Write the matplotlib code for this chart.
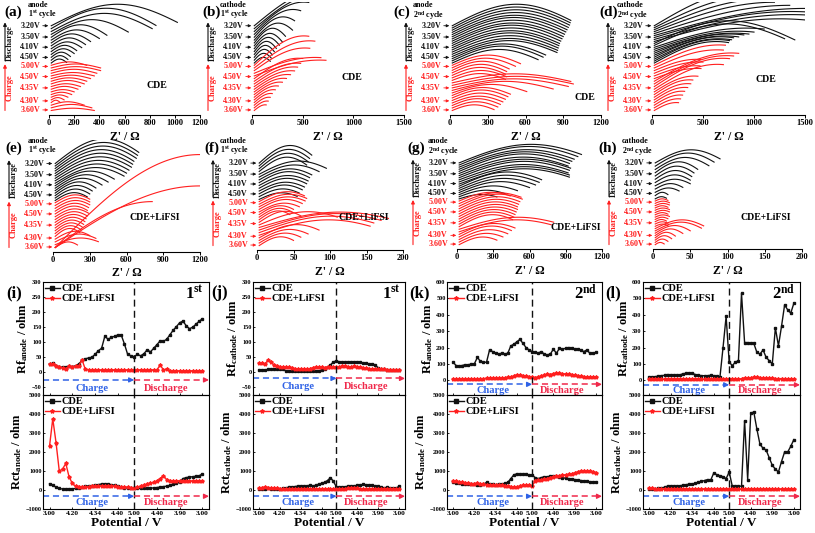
import numpy as np
import matplotlib
matplotlib.use('Agg')
from matplotlib import pyplot as plt
from matplotlib.lines import Line2D
from matplotlib.transforms import ScaledTranslation

plt.rcParams['font.family'] = 'Liberation Serif'
plt.rcParams['font.weight'] = 'bold'
plt.rcParams['axes.labelweight'] = 'bold'
plt.rcParams['mathtext.fontset'] = 'custom'
plt.rcParams['mathtext.bf'] = 'Liberation Serif:bold'
plt.rcParams['mathtext.rm'] = 'Liberation Serif:bold'
plt.rcParams['mathtext.default'] = 'bf'
plt.rcParams['axes.linewidth'] = 0.8

W, H = 815, 533
BLK = '#111111'
RED = '#ff1f1f'
BLUE = '#2f62e6'
PINK = '#f0284a'

# ---------------- Nyquist panels (a)-(h) ----------------
# each curve: end Z' (ohm) and arc height (fraction of panel height), top curve first
VOLT_LABELS = ['3.20V', '3.50V', '4.10V', '4.50V', '5.00V', '4.50V', '4.35V', '4.30V', '3.60V']
VOLT_POS = [0.79, 0.69, 0.60, 0.51, 0.43, 0.34, 0.24, 0.125, 0.045]

A_BLACK_END = [1020, 850, 820, 630, 460, 400, 330, 290, 260, 220, 200, 170, 150, 140]
A_BLACK_H = [0.19, 0.18, 0.16, 0.13, 0.11, 0.09, 0.08, 0.07, 0.06, 0.055, 0.05, 0.045, 0.04, 0.035]
A_RED_END = [300, 410, 410, 380, 360, 330, 300, 280, 250, 230, 200, 180, 150, 120, 90, 280, 340, 360]
A_RED_H = [0.03, 0.035, 0.035, 0.035, 0.03, 0.03, 0.03, 0.03, 0.025, 0.025, 0.02, 0.02, 0.02, 0.02, 0.02, 0.03, 0.03, 0.02]

B_BLACK_END = [700, 650, 560, 480, 420, 400, 330, 300, 270, 240, 220, 200, 190, 180]
B_BLACK_H = [0.32, 0.30, 0.26, 0.22, 0.18, 0.15, 0.13, 0.11, 0.10, 0.09, 0.08, 0.07, 0.06, 0.05]
B_BLACK_S = [0.5, 0.5, 0.55, 0.6, 0.7, 0.8, 0.85, 0.9, 0.9, 0.9, 0.9, 0.9, 0.9, 0.9]
B_RED_END = [560, 620, 570, 680, 730, 500, 480, 450, 420, 380, 340, 300, 260, 230, 200, 180, 160, 140]
B_RED_H = [0.26, 0.24, 0.20, 0.14, 0.14, 0.18, 0.16, 0.15, 0.14, 0.13, 0.12, 0.11, 0.10, 0.09, 0.08, 0.07, 0.06, 0.05]

C_BLACK_END = [960, 955, 950, 940, 930, 920, 910, 900, 890, 880, 870, 865, 860, 855, 850, 760, 740, 700]
C_BLACK_H = [0.19, 0.185, 0.18, 0.175, 0.17, 0.17, 0.165, 0.16, 0.16, 0.155, 0.15, 0.15, 0.145, 0.14, 0.14, 0.13, 0.13, 0.12]
C_RED_END = [560, 520, 470, 450, 440, 450, 440, 960, 980, 940, 820, 610, 480, 460, 440, 420, 400, 380, 350]
C_RED_H = [0.09, 0.085, 0.08, 0.075, 0.07, 0.065, 0.06, 0.08, 0.08, 0.08, 0.08, 0.075, 0.07, 0.07, 0.065, 0.06, 0.06, 0.055, 0.05]

D_BLACK_END = [900, 1000, 1100, 1200, 1350, 1500, 1500, 1500, 1500, 1400, 1300, 1100, 1000, 950, 900, 850, 800, 780, 760, 750]
D_BLACK_H = [0.3, 0.28, 0.27, 0.26, 0.25, 0.24, 0.23, 0.22, 0.2, 0.2, 0.19, 0.17, 0.16, 0.16, 0.17, 0.17, 0.18, 0.18, 0.19, 0.19]
D_BLACK_S = [0.5, 0.5, 0.5, 0.5, 0.5, 0.5, 0.55, 0.55, 0.6, 0.95, 0.9, 0.6, 0.6, 0.6, 0.6, 0.6, 0.6, 0.6, 0.6, 0.6]
D_RED_END = [720, 700, 480, 500, 470, 480, 850, 800, 760, 700, 450, 400, 380, 350, 320, 300, 280, 260]
D_RED_H = [0.18, 0.16, 0.1, 0.1, 0.09, 0.09, 0.25, 0.25, 0.25, 0.22, 0.14, 0.13, 0.12, 0.11, 0.1, 0.09, 0.08, 0.07]

E_BLACK_END = [700, 690, 680, 660, 650, 640, 620, 600, 580, 500, 450, 400, 350, 320, 300, 280]
E_BLACK_H = [0.22, 0.21, 0.2, 0.19, 0.18, 0.17, 0.16, 0.15, 0.14, 0.13, 0.12, 0.11, 0.1, 0.09, 0.08, 0.07]
E_RED_END = [300, 300, 300, 290, 280, 290, 280, 270, 260, 250, 240, 230, 220, 300, 350, 370, 200]
E_RED_H = [0.07, 0.07, 0.07, 0.07, 0.07, 0.07, 0.07, 0.07, 0.07, 0.07, 0.07, 0.07, 0.07, 0.07, 0.07, 0.06, 0.05]
E_LONG_END = [1200, 1200, 810]
E_LONG_H = [0.83, 0.55, 0.41]

F_BLACK_END = [75, 72, 70, 68, 95, 85, 75, 72, 70, 68, 65, 62, 58, 55]
F_BLACK_H = [0.16, 0.15, 0.14, 0.13, 0.12, 0.11, 0.1, 0.1, 0.09, 0.09, 0.08, 0.08, 0.07, 0.06]
F_RED_END = [65, 68, 66, 62, 58, 50, 48, 45, 60, 110, 180, 170, 160, 155, 85, 70, 60, 50]
F_RED_H = [0.09, 0.09, 0.09, 0.09, 0.08, 0.08, 0.08, 0.08, 0.1, 0.12, 0.14, 0.15, 0.15, 0.14, 0.12, 0.1, 0.09, 0.08]

G_BLACK_END = [1030, 1000, 970, 950, 930, 920, 940, 930, 920, 930, 930, 700, 680, 650, 600, 500, 400, 330]
G_BLACK_H = [0.17, 0.17, 0.16, 0.16, 0.16, 0.15, 0.15, 0.15, 0.14, 0.14, 0.14, 0.13, 0.12, 0.11, 0.1, 0.08, 0.06, 0.04]
G_RED_END = [440, 530, 540, 520, 510, 500, 500, 490, 480, 470, 460, 800, 780, 480, 450, 420, 380, 330]
G_RED_H = [0.08, 0.1, 0.11, 0.11, 0.11, 0.11, 0.11, 0.11, 0.11, 0.11, 0.11, 0.11, 0.11, 0.1, 0.1, 0.09, 0.08, 0.07]

H_BLACK_END = [90, 82, 75, 60, 55, 52, 50, 50, 40, 35, 20, 18]
H_BLACK_H = [0.12, 0.12, 0.11, 0.1, 0.09, 0.08, 0.07, 0.06, 0.05, 0.04, 0.03, 0.02]
H_RED_END = [20, 22, 22, 20, 22, 22, 20, 22, 20, 18, 20, 20, 68, 65, 50, 40, 30, 25, 20, 15]
H_RED_H = [0.02] * 12 + [0.08, 0.08, 0.07, 0.06, 0.05, 0.04, 0.03, 0.02]

# ---------------- Rf / Rct panels (i)-(l) ----------------
POT_TICKS = [0, 7, 14, 21, 26, 33, 40, 47]
POT_LABELS = ['3.00', '4.20', '4.34', '4.40', '5.00', '4.40', '3.90', '3.00']
TURN = 26

I_RF_CDE = [28, 30, 22, 18, 17, 18, 20, 19, 22, 28, 40, 45, 48, 50, 60, 72, 80, 120, 110, 116, 120, 124, 125, 95, 60, 55, 52,
            60, 55, 62, 75, 68, 80, 92, 105, 103, 110, 125, 140, 152, 165, 170, 155, 145, 150, 160, 170, 178]
I_RF_LI = [28, 28, 22, 18, 15, 12, 20, 18, 20, 22, 42, 10, 9] + [8] * 14 + [8] * 7 + [25, 8, 12] + [5] * 11
I_RCT_CDE = [330, 250, 150, 80, 50, 50, 50, 60, 80, 100, 150, 200, 220, 230, 250, 280, 320, 330, 300, 280, 250, 200, 150, 130, 110, 100, 100,
             90, 80, 80, 90, 100, 110, 130, 150, 180, 200, 250, 300, 350, 400, 600, 650, 680, 700, 720, 750, 850]
I_RCT_LI = [2300, 3750, 2500, 1000, 1100, 1400, 700, 350, 200, 180, 170, 170, 180, 200, 220, 230, 220, 220, 210, 200, 200, 180, 170, 160, 140, 120, 100,
            150, 200, 250, 300, 350, 400, 450, 600, 750, 550, 480, 480, 480, 480, 470, 470, 470, 470, 470, 470, 470]

J_RF_CDE = [8, 8, 8, 10, 10, 10, 12, 12, 10, 5, 3, 3, 3, 3, 3, 3, 3, 3, 3, 3, 5, 8, 12, 18, 25, 35, 38,
            35, 33, 33, 35, 35, 35, 35, 33, 30, 30, 28, 28, 25, 15, 10, 10, 8, 8, 8, 8, 8]
J_RF_LI = [30, 32, 28, 40, 35, 25, 20, 18, 18, 18, 18, 15, 12, 12, 10, 10, 10, 12, 15, 18, 18, 18, 15, 18, 18, 18, 18,
           18, 20, 20, 18, 18, 20, 18, 18, 15, 15, 12, 12, 12, 10, 10, 10, 8, 8, 8, 8, 8]
J_RCT_CDE = [50, 60, 70, 80, 60, 60, 60, 50, 80, 100, 150, 150, 180, 200, 200, 200, 200, 250, 200, 250, 300, 350, 400, 500, 650, 450, 150,
             150, 150, 170, 200, 200, 200, 250, 250, 300, 250, 250, 250, 200, 200, 150, 100, 150, 100, 100, 80, 200]
J_RCT_LI = [120, 130, 150, 130, 100, 80, 80, 60, 60] + [50] * 18 + [50, 50, 60, 80, 100, 80, 80, 60, 60] + [50] * 12

K_RF_CDE = [110, 90, 88, 90, 95, 95, 98, 100, 140, 115, 110, 110, 185, 175, 165, 160, 165, 160, 165, 210, 220, 235, 250, 225, 200, 185, 175,
            170, 165, 175, 160, 155, 160, 190, 165, 195, 190, 195, 200, 195, 190, 190, 185, 175, 185, 165, 165, 170]
K_RF_LI = [5, 5, 5, 5, 5, 5, 8, 8, 8, 10, 10, 12, 15, 15, 15, 15, 15, 15, 18, 20, 25, 35, 32, 28, 25, 22, 20,
           15, 20, 25, 30, 38, 35, 40, 45, 42, 40, 38, 38, 35, 30, 28, 25, 22, 20, 20, 18, 18]
K_RCT_CDE = [420, 380, 350, 320, 300, 300, 300, 300, 280, 260, 300, 400, 320, 300, 280, 300, 300, 350, 400, 600, 800, 850, 820, 820, 820, 800, 800,
             650, 600, 650, 700, 700, 720, 750, 730, 700, 650, 620, 600, 580, 550, 520, 500, 480, 450, 430, 420, 430]
K_RCT_LI = [500, 450, 420, 400, 380, 350, 320, 330, 350, 300, 300, 280, 280, 260, 260, 260, 250, 230, 200, 180, 160, 150, 200, 250, 280, 250, 200,
            500, 520, 540, 560, 600, 650, 700, 720, 750, 780, 800, 820, 850, 900, 950, 1000, 1020, 1000, 980, 950, 920]

L_RF_CDE = [18, 20, 22, 25, 28, 30, 35, 32, 30, 30, 32, 40, 42, 45, 42, 35, 30, 28, 28, 28, 30, 25, 25, 20, 200, 390, 110,
            90, 110, 120, 530, 230, 230, 228, 225, 170, 160, 185, 140, 120, 100, 320, 210, 330, 460, 430, 410, 470]
L_RF_LI = [10, 10, 8, 8] + [5] * 20 + [8, 10, 8] + [5, 5, 5, 10, 15, 12, 15, 18, 20, 15, 12, 15, 15, 12, 10, 10, 10, 10, 8, 8, 8]
L_RCT_CDE = [50, 50, 60, 80, 100, 150, 200, 220, 200, 200, 220, 250, 280, 300, 320, 350, 400, 450, 500, 550, 520, 900, 800, 750, 700, 600, 950,
             200, 200, 200, 200, 3650, 550, 4050, 4100, 3200, 2400, 2200, 2100, 1700, 1300, 1100, 950, 1500, 2000, 2000, 2300, 2650]
L_RCT_LI = [80, 80, 70, 60] + [50] * 23 + [50] * 21

fig = plt.figure(figsize=(W / 100, H / 100), dpi=100)


def px_axes(x0, y0, x1, y1):
    ax = fig.add_axes([x0 / W, 1 - y1 / H, (x1 - x0) / W, (y1 - y0) / H])
    ax.patch.set_visible(False)
    return ax


def ftext(x, y, s, **kw):
    fig.text(x / W, 1 - y / H, s, **kw)


def shifted(ax, dx):
    return ax.transAxes + ScaledTranslation(dx / 100, 0, fig.dpi_scale_trans)


def draw_arcs(ax, xmax, ends, heights, shapes, offs, color):
    t = np.linspace(0, 1, 60)
    x0 = 0.015 * xmax
    shapes = np.broadcast_to(shapes, (len(ends),))
    for off, e, h, s in zip(offs, ends, heights, shapes):
        norm = 1.0 if s >= 0.5 else np.sin(np.pi * s)
        ax.plot(x0 + (e - x0) * t, off + h * np.sin(np.pi * s * t) / norm, color=color, lw=0.8)


def nyquist(rect, xmax, ticks, bend, bh, bs, rend, rh, rs, tag, tagpos, letter, letpos, elec, cyc, labx, labpad):
    ax = px_axes(*rect)
    draw_arcs(ax, xmax, bend, bh, bs, np.linspace(0.79, 0.46, len(bend)), BLK)
    draw_arcs(ax, xmax, rend, rh, rs, np.linspace(0.44, 0.04, len(rend)), RED)
    ax.set_xlim(0, xmax)
    ax.set_ylim(0, 1)
    for sp in ['top', 'right', 'left']:
        ax.spines[sp].set_visible(False)
    ax.set_yticks([])
    ax.set_xticks(ticks)
    ax.tick_params(axis='x', labelsize=6, length=2, width=0.7, pad=1)
    ax.set_xlabel("Z' / Ω", fontsize=8.5, labelpad=labpad)
    for lab, f, i in zip(VOLT_LABELS, VOLT_POS, range(len(VOLT_LABELS))):
        c = BLK if i < 4 else RED
        ax.annotate(lab, xy=(0, f), xycoords='axes fraction', xytext=(-9, 0), textcoords='offset pixels',
                    ha='right', va='center', fontsize=5.8, color=c,
                    arrowprops=dict(arrowstyle='-|>', color=c, lw=0.6, mutation_scale=4, shrinkA=0, shrinkB=0.5))
    tr = shifted(ax, -44)
    ax.annotate('', xy=(0, 0.82), xytext=(0, 0.48), xycoords=tr, textcoords=tr,
                arrowprops=dict(arrowstyle='-|>', color=BLK, lw=0.8, mutation_scale=5, shrinkA=0, shrinkB=0))
    ax.annotate('', xy=(0, 0.45), xytext=(0, 0.04), xycoords=tr, textcoords=tr,
                arrowprops=dict(arrowstyle='-|>', color=RED, lw=0.8, mutation_scale=5, shrinkA=0, shrinkB=0))
    ax.text(0, 0.64, 'Discharge', transform=shifted(ax, -39.5), rotation=90, ha='center', va='center', fontsize=6, color=BLK)
    ax.text(0, 0.24, 'Charge', transform=shifted(ax, -39.5), rotation=90, ha='center', va='center', fontsize=6, color=RED)
    ftext(tagpos[0], tagpos[1], tag, fontsize=7, ha='center', va='center')
    ftext(letpos[0], letpos[1], letter, fontsize=11, ha='center', va='center')
    ftext(labx, letpos[1] - 7, elec, fontsize=5.8, ha='left', va='center')
    ftext(labx, letpos[1] + 3, cyc, fontsize=5.8, ha='left', va='center')
    return ax


nyquist((49, 2, 200, 115), 1200, [0, 200, 400, 600, 800, 1000, 1200], A_BLACK_END, A_BLACK_H, 0.95, A_RED_END, A_RED_H, 1.0,
        'CDE', (157, 85), '(a)', (13, 12), 'anode', r'1$^{st}$ cycle', 28, 3)
nyquist((252, 2, 404, 115), 1500, [0, 500, 1000, 1500], B_BLACK_END, B_BLACK_H, B_BLACK_S, B_RED_END, B_RED_H, 0.55,
        'CDE', (352, 78), '(b)', (212, 12), 'cathode', r'1$^{st}$ cycle', 220, 3)
nyquist((450, 2, 601, 115), 1200, [0, 300, 600, 900, 1200], C_BLACK_END, C_BLACK_H, 0.92, C_RED_END, C_RED_H, 0.95,
        'CDE', (585, 98), '(c)', (402, 12), 'anode', r'2$^{nd}$ cycle', 413, 3)
nyquist((652, 2, 805, 115), 1500, [0, 500, 1000, 1500], D_BLACK_END, D_BLACK_H, D_BLACK_S, D_RED_END, D_RED_H, 0.55,
        'CDE', (766, 80), '(d)', (609, 12), 'cathode', r'2$^{nd}$ cycle', 617, 3)

ax_e = nyquist((53, 140, 200, 252), 1200, [0, 300, 600, 900, 1200], E_BLACK_END, E_BLACK_H, 0.85, E_RED_END, E_RED_H, 0.85,
               'CDE+LiFSI', (155, 218), '(e)', (14, 148), 'anode', r'1$^{st}$ cycle', 28, 2)
draw_arcs(ax_e, 1200, E_LONG_END, E_LONG_H, 0.5, [0.04] * len(E_LONG_END), RED)
nyquist((257, 140, 403, 250), 200, [0, 50, 100, 150, 200], F_BLACK_END, F_BLACK_H, 0.85, F_RED_END, F_RED_H, 0.8,
        'CDE+LiFSI', (364, 218), '(f)', (212, 148), 'cathode', r'1$^{st}$ cycle', 220, 3)
nyquist((457, 140, 602, 249), 1200, [0, 300, 600, 900, 1200], G_BLACK_END, G_BLACK_H, 0.85, G_RED_END, G_RED_H, 0.8,
        'CDE+LiFSI', (576, 227), '(g)', (416, 148), 'anode', r'2$^{nd}$ cycle', 428, 3)
nyquist((653, 140, 802, 249), 200, [0, 50, 100, 150, 200], H_BLACK_END, H_BLACK_H, 0.9, H_RED_END, H_RED_H, 0.9,
        'CDE+LiFSI', (766, 218), '(h)', (608, 148), 'cathode', r'2$^{nd}$ cycle', 622, 3)


def resist(ax, cde, li, ylim, yticks, yl, arrow_y, text_y, show_x):
    idx = np.arange(len(cde))
    ax.plot(idx, cde, color=BLK, lw=1.0, marker='s', ms=1.8)
    ax.plot(idx, li, color=RED, lw=1.0, marker='*', ms=2.8)
    xl = (-2, 49)
    ax.set_xlim(*xl)
    ax.set_ylim(*ylim)
    ax.set_yticks(yticks)
    ax.axvline(TURN, color=BLK, ls=(0, (5, 3)), lw=1.0)
    ax.plot([xl[0], TURN - 0.6], [arrow_y, arrow_y], color=BLUE, ls=(0, (4, 2.5)), lw=1.1)
    ax.annotate('', xy=(TURN, arrow_y), xytext=(TURN - 1.2, arrow_y),
                arrowprops=dict(arrowstyle='-|>', color=BLUE, lw=1, mutation_scale=7, shrinkA=0, shrinkB=0))
    ax.plot([TURN, xl[1] - 0.6], [arrow_y, arrow_y], color=PINK, ls=(0, (4, 2.5)), lw=1.1)
    ax.annotate('', xy=(xl[1], arrow_y), xytext=(xl[1] - 1.2, arrow_y),
                arrowprops=dict(arrowstyle='-|>', color=PINK, lw=1, mutation_scale=7, shrinkA=0, shrinkB=0))
    ax.text((xl[0] + TURN) / 2 + 1, text_y, 'Charge', color=BLUE, fontsize=7.5, ha='center', va='center')
    ax.text(TURN + 0.43 * (xl[1] - TURN), text_y, 'Discharge', color=PINK, fontsize=7.5, ha='center', va='center')
    ax.set_ylabel(yl, fontsize=9, labelpad=1)
    ax.tick_params(axis='y', labelsize=4.5, length=1.5, width=0.6, pad=1, direction='in')
    ax.tick_params(axis='x', labelsize=5.3, length=1.5, width=0.6, pad=1.5, direction='in')
    ax.set_xticks(POT_TICKS)
    if show_x:
        ax.set_xticklabels(POT_LABELS)
        ax.set_xlabel('Potential / V', fontsize=9.5, labelpad=1)
    else:
        ax.set_xticklabels([])
    handles = [Line2D([], [], color=BLK, marker='s', ms=2.2, lw=1.0),
               Line2D([], [], color=RED, marker='*', ms=3, lw=1.0)]
    ax.legend(handles, ['CDE', 'CDE+LiFSI'], loc='upper left', frameon=False, fontsize=7.5,
              handlelength=1.4, handletextpad=0.2, labelspacing=0.05, borderaxespad=0.1, borderpad=0.1)


R_PANELS = [
    ((43, 209), '(i)', 14, r'1$^{st}$', 'anode', I_RF_CDE, I_RF_LI, I_RCT_CDE, I_RCT_LI, (-75, 300), list(range(-50, 301, 50)), -25, -52),
    ((253, 405), '(j)', 220, r'1$^{st}$', 'cathode', J_RF_CDE, J_RF_LI, J_RCT_CDE, J_RCT_LI, (-75, 300), list(range(-50, 301, 50)), -20, -48),
    ((447, 602), '(k)', 419, r'2$^{nd}$', 'anode', K_RF_CDE, K_RF_LI, K_RCT_CDE, K_RCT_LI, (-90, 600), list(range(0, 601, 100)), -25, -62),
    ((643, 800), '(l)', 613, r'2$^{nd}$', 'cathode', L_RF_CDE, L_RF_LI, L_RCT_CDE, L_RCT_LI, (-90, 600), list(range(0, 601, 100)), -28, -62),
]

for (x0, x1), letter, lx, cyc, elec, rf_c, rf_l, rct_c, rct_l, rf_lim, rf_ticks, ay, ty in R_PANELS:
    up = px_axes(x0, 282, x1, 395)
    lo = px_axes(x0, 395, x1, 509)
    resist(up, rf_c, rf_l, rf_lim, rf_ticks, 'Rf$_{%s}$ / ohm' % elec, ay, ty, False)
    resist(lo, rct_c, rct_l, (-1000, 5000), list(range(-1000, 5001, 1000)), 'Rct$_{%s}$ / ohm' % elec, -330, -650, True)
    up.text(0.97, 0.9, cyc, transform=up.transAxes, fontsize=12, ha='right', va='center')
    ftext(lx, 293, letter, fontsize=12, ha='center', va='center')

fig.savefig('out.png', dpi=100)
